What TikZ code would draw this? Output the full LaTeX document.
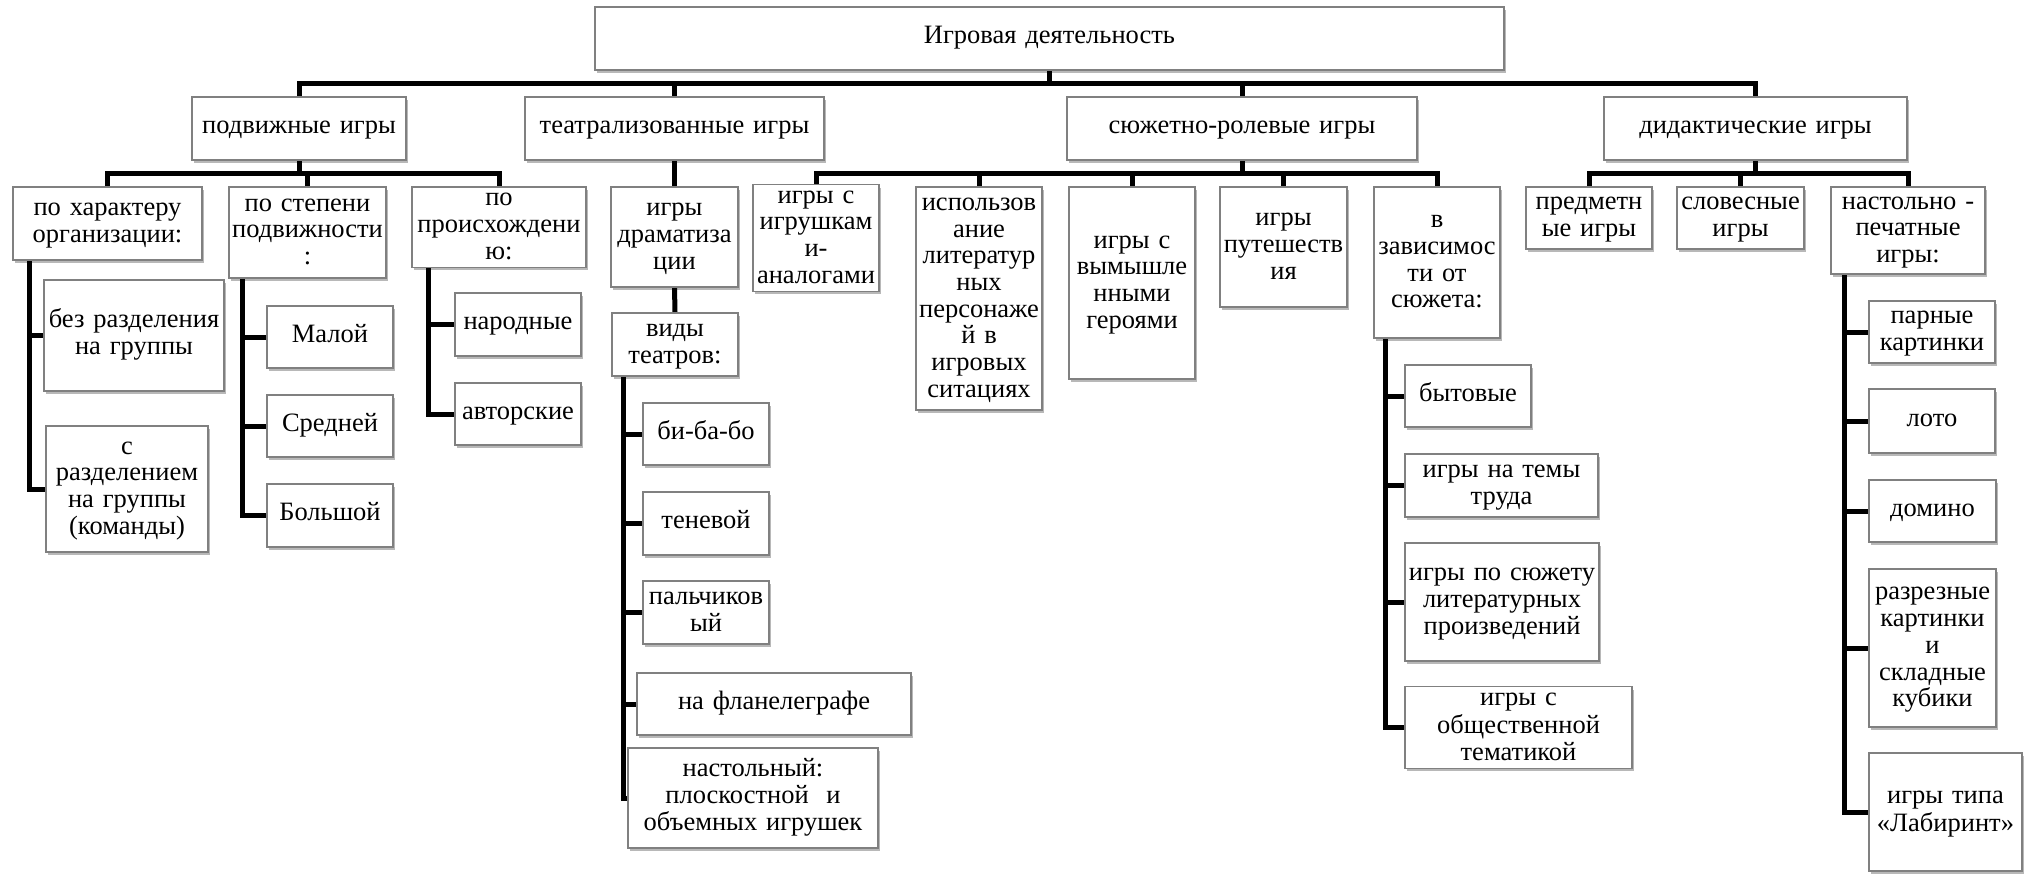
\documentclass[tikz,border=0pt]{standalone}
\usepackage{fontspec}
\setmainfont{Liberation Serif}
\usetikzlibrary{shadows,backgrounds}
\newcommand\fsz{\fontsize{26.5}{26.7}\selectfont}
\tikzset{
  bx/.style={draw=black!50, line width=1.1pt, fill=white, align=center,
    inner xsep=0pt, inner ysep=0pt, font=\fsz,
    drop shadow={shadow xshift=1.5pt, shadow yshift=-3pt, opacity=0.28, fill=black},
    execute at begin node=\strut, execute at end node=\strut},
  conn/.style={line width=5pt, draw=black, line join=miter}
}
% name, left, top, right, bottom, text
\newcommand\bxn[6]{%
  \node[bx, text width=\dimexpr#4pt-#2pt\relax,
        minimum width=\dimexpr#4pt-#2pt\relax,
        minimum height=\dimexpr#5pt-#3pt\relax]
    (#1) at ({(#2+#4)/2},{-(#3+#5)/2}) {#6};}
\begin{document}
\begin{tikzpicture}[x=1pt,y=1pt]
\useasboundingbox (0,0) rectangle (2033,-873);
% level 1-2
\bxn{top}{595}{7}{1504}{70}{Игровая деятельность}
\bxn{pod}{192}{97}{406}{160}{подвижные игры}
\bxn{teat}{525}{97}{824}{160}{театрализованные игры}
\bxn{sjuz}{1067}{97}{1417}{160}{сюжетно-ролевые игры}
\bxn{did}{1604}{97}{1907}{160}{дидактические игры}
% подвижные
\bxn{pk}{13}{187}{202}{260}{по характеру\\организации:}
\bxn{ps}{229}{187}{386}{278}{по степени\\подвижности\\:}
\bxn{pp}{412}{187}{586}{267}{по\\происхождени\\ю:}
\bxn{bez}{44}{280}{224}{391}{без разделения\\на группы}
\bxn{sraz}{46}{426}{208}{552}{с\\разделением\\на группы\\(команды)}
\bxn{mal}{267}{306}{393}{368}{Малой}
\bxn{sred}{267}{395}{393}{457}{Средней}
\bxn{bol}{267}{484}{393}{547}{Большой}
\bxn{nar}{455}{293}{581}{356}{народные}
\bxn{avt}{455}{383}{581}{445}{авторские}
% театрализованные
\bxn{dram}{611}{187}{738}{287}{игры\\драматиза\\ции}
\bxn{vidy}{612}{313}{738}{376}{виды\\театров:}
\bxn{bib}{643}{403}{769}{465}{би-ба-бо}
\bxn{ten}{643}{492}{769}{555}{теневой}
\bxn{pal}{643}{581}{769}{644}{пальчиков\\ый}
\bxn{flan}{637}{673}{911}{735}{на фланелеграфе}
\bxn{nstl}{628}{748}{878}{848}{настольный:\\плоскостной~ и\\объемных игрушек}
% сюжетно-ролевые
\bxn{igr}{753}{187}{879}{289}{игры с\\игрушкам\\и-\\аналогами}
\bxn{isp}{916}{187}{1042}{410}{использов\\ание\\литератур\\ных\\персонаже\\й в\\игровых\\ситациях}
\bxn{vym}{1069}{187}{1195}{379}{игры с\\вымышле\\нными\\героями}
\bxn{put}{1220}{187}{1347}{307}{игры\\путешеств\\ия}
\bxn{zav}{1374}{187}{1500}{338}{в\\зависимос\\ти от\\сюжета:}
\bxn{byt}{1405}{365}{1531}{427}{бытовые}
\bxn{trud}{1405}{454}{1598}{517}{игры на темы\\труда}
\bxn{lit}{1405}{543}{1599}{661}{игры по сюжету\\литературных\\произведений}
\bxn{obsh}{1405}{687}{1632}{768}{игры с\\общественной\\тематикой}
% дидактические
\bxn{pred}{1526}{187}{1652}{249}{предметн\\ые игры}
\bxn{slov}{1677}{187}{1804}{249}{словесные\\игры}
\bxn{nast}{1831}{187}{1985}{274}{настольно -\\печатные\\игры:}
\bxn{par}{1869}{301}{1995}{363}{парные\\картинки}
\bxn{loto}{1869}{389}{1995}{453}{лото}
\bxn{dom}{1869}{480}{1996}{542}{домино}
\bxn{raz}{1869}{569}{1996}{727}{разрезные\\картинки\\и\\складные\\кубики}
\bxn{lab}{1869}{753}{2022}{871}{игры типа\\«Лабиринт»}
\begin{pgfonlayer}{background}
\fill[white] (0,0) rectangle (2033,-873);
% main bus
\coordinate (mb) at ([yshift=-13pt]top.south);
\draw[conn] (top.south) -- (mb);
\draw[conn] (pod.north) -- (pod.north |- mb) -- (did.north |- mb) -- (did.north);
\draw[conn] (teat.north) -- (teat.north |- mb);
\draw[conn] (sjuz.north) -- (sjuz.north |- mb);
% подвижные
\coordinate (pb) at ([yshift=-13pt]pod.south);
\draw[conn] (pod.south) -- (pb);
\draw[conn] (pk.north) -- (pk.north |- pb) -- (pp.north |- pb) -- (pp.north);
\draw[conn] (ps.north) -- (ps.north |- pb);
\draw[conn] ([xshift=17pt]pk.south west) |- (sraz.west);
\draw[conn] ([xshift=17pt]pk.south west) |- (bez.west);
\draw[conn] ([xshift=14pt]ps.south west) |- (bol.west);
\draw[conn] ([xshift=14pt]ps.south west) |- (sred.west);
\draw[conn] ([xshift=14pt]ps.south west) |- (mal.west);
\draw[conn] ([xshift=17pt]pp.south west) |- (avt.west);
\draw[conn] ([xshift=17pt]pp.south west) |- (nar.west);
% театрализованные
\draw[conn] (teat.south) -- (dram.north);
\draw[conn] (dram.south) -- (vidy.north);
\draw[conn] ([xshift=12pt]vidy.south west) |- (nstl.west);
\draw[conn] ([xshift=12pt]vidy.south west) |- (flan.west);
\draw[conn] ([xshift=12pt]vidy.south west) |- (pal.west);
\draw[conn] ([xshift=12pt]vidy.south west) |- (ten.west);
\draw[conn] ([xshift=12pt]vidy.south west) |- (bib.west);
% сюжетно-ролевые
\coordinate (sb) at ([yshift=-13pt]sjuz.south);
\draw[conn] (sjuz.south) -- (sb);
\draw[conn] (igr.north) -- (igr.north |- sb) -- (zav.north |- sb) -- (zav.north);
\draw[conn] (isp.north) -- (isp.north |- sb);
\draw[conn] (vym.north) -- (vym.north |- sb);
\draw[conn] (put.north) -- (put.north |- sb);
\draw[conn] ([xshift=12pt]zav.south west) |- (obsh.west);
\draw[conn] ([xshift=12pt]zav.south west) |- (lit.west);
\draw[conn] ([xshift=12pt]zav.south west) |- (trud.west);
\draw[conn] ([xshift=12pt]zav.south west) |- (byt.west);
% дидактические
\coordinate (db) at ([yshift=-13pt]did.south);
\draw[conn] (did.south) -- (db);
\draw[conn] (pred.north) -- (pred.north |- db) -- (nast.north |- db) -- (nast.north);
\draw[conn] (slov.north) -- (slov.north |- db);
\draw[conn] ([xshift=14pt]nast.south west) |- (lab.west);
\draw[conn] ([xshift=14pt]nast.south west) |- (raz.west);
\draw[conn] ([xshift=14pt]nast.south west) |- (dom.west);
\draw[conn] ([xshift=14pt]nast.south west) |- (loto.west);
\draw[conn] ([xshift=14pt]nast.south west) |- (par.west);
\end{pgfonlayer}
\end{tikzpicture}
\end{document}
